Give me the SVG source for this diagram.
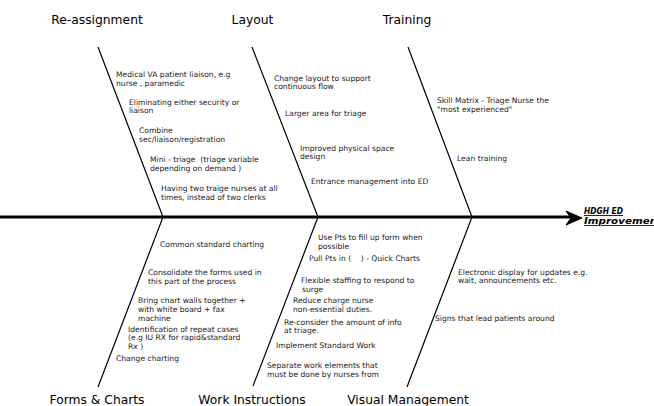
<svg xmlns="http://www.w3.org/2000/svg" width="654" height="406" viewBox="0 0 654 406">
<defs>
<style>
.bone{stroke:#000;stroke-width:1.2;fill:none}
.spine{stroke:#000;stroke-width:3;fill:none}
.cat{font-family:"DejaVu Sans",Verdana,sans-serif;font-size:12.3px;fill:#000;text-anchor:middle}
.t{font-family:"DejaVu Sans",Verdana,sans-serif;font-size:7.6px;fill:#1a1a1a}
.title{font-family:"DejaVu Sans",Verdana,sans-serif;font-size:8.5px;font-weight:bold;font-style:italic;text-decoration:underline;fill:#000}
</style>
</defs>
<rect width="654" height="406" fill="#fff"/>
<g id="connectors">
<line class="spine" x1="0" y1="217" x2="572" y2="217"/>
<path d="M582,218 L566,211 L571,218 L566,225 Z" fill="#000" stroke="#000" stroke-width="1"/>
<polyline class="bone" points="98,47 163,217 98,387"/>
<polyline class="bone" points="252,47 318,217 253,386"/>
<polyline class="bone" points="408,47 472,217 407,387"/>
</g>
<g id="head">
<text class="title" x="584" y="214" textLength="39" lengthAdjust="spacingAndGlyphs">HDGH ED</text>
<text class="title" x="584" y="224" textLength="78" lengthAdjust="spacingAndGlyphs">Improvement</text>
</g>
<g id="reassignment">
<text class="cat" x="97" y="24">Re-assignment</text>
<text class="t" x="116" y="77">Medical VA patient liaison, e.g<tspan x="116" y="85.5">nurse , paramedic</tspan></text>
<text class="t" x="129" y="104.5">Eliminating either security or<tspan x="129" y="113">liaison</tspan></text>
<text class="t" x="139" y="133">Combine<tspan x="139" y="141.5">sec/liaison/registration</tspan></text>
<text class="t" x="150" y="162">Mini - triage &#160;(triage variable<tspan x="150" y="170.5">depending on demand )</tspan></text>
<text class="t" x="161" y="191">Having two traige nurses at all<tspan x="161" y="199.5">times, instead of two clerks</tspan></text>
</g>
<g id="layout">
<text class="cat" x="252.5" y="24">Layout</text>
<text class="t" x="274" y="80.5">Change layout to support<tspan x="274" y="89">continuous flow</tspan></text>
<text class="t" x="285" y="116">Larger area for triage</text>
<text class="t" x="300" y="150.5">Improved physical space<tspan x="300" y="158.5">design</tspan></text>
<text class="t" x="311" y="184">Entrance management into ED</text>
</g>
<g id="training">
<text class="cat" x="407" y="24">Training</text>
<text class="t" x="437" y="103">Skill Matrix - Triage Nurse the<tspan x="437" y="111.5">"most experienced"</tspan></text>
<text class="t" x="457" y="161">Lean training</text>
</g>
<g id="forms">
<text class="cat" x="97" y="404">Forms &amp; Charts</text>
<text class="t" x="160" y="247">Common standard charting</text>
<text class="t" x="148" y="275">Consolidate the forms used in<tspan x="148" y="283.5">this part of the process</tspan></text>
<text class="t" x="138" y="303">Bring chart walls together +<tspan x="138" y="311.5">with white board + fax</tspan><tspan x="138" y="320.5">machine</tspan></text>
<text class="t" x="128" y="331.5">Identification of repeat cases<tspan x="128" y="340">(e.g IU RX for rapid&amp;standard</tspan><tspan x="128" y="348.5">Rx )</tspan></text>
<text class="t" x="116" y="360.5">Change charting</text>
</g>
<g id="work">
<text class="cat" x="252" y="404">Work Instructions</text>
<text class="t" x="318" y="240">Use Pts to fill up form when<tspan x="318" y="248.5">possible</tspan></text>
<text class="t" x="309" y="261">Pull Pts in ( &#160; &#160;) - Quick Charts</text>
<text class="t" x="301" y="283">Flexible staffing to respond to<tspan x="302" y="291.5">surge</tspan></text>
<text class="t" x="293" y="303">Reduce charge nurse<tspan x="293" y="311.5">non-essential duties.</tspan></text>
<text class="t" x="284" y="324.5">Re-consider the amount of info<tspan x="284" y="333">at triage.</tspan></text>
<text class="t" x="276" y="348">Implement Standard Work</text>
<text class="t" x="267" y="367.5">Separate work elements that<tspan x="267" y="377">must be done by nurses from</tspan></text>
</g>
<g id="visual">
<text class="cat" x="408" y="404">Visual Management</text>
<text class="t" x="458" y="274.5">Electronic display for updates e.g.<tspan x="458" y="283">wait, announcements etc.</tspan></text>
<text class="t" x="435" y="321">Signs that lead patients around</text>
</g>
</svg>
